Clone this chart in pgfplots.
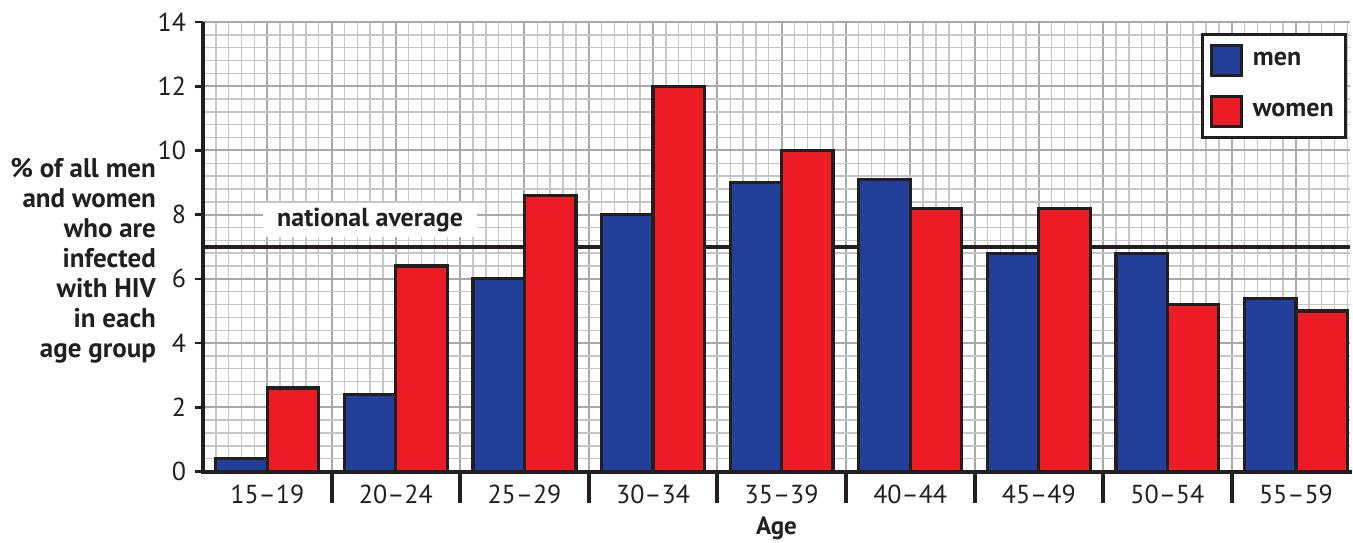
\documentclass[border=0pt]{standalone}
\usepackage{fontspec}
\setmainfont{PT Sans}
\usepackage{pgfplots}
\pgfplotsset{compat=1.18}
\usetikzlibrary{calc}
\definecolor{menblue}{HTML}{22409A}
\definecolor{womenred}{HTML}{ED1C24}
\definecolor{edge}{HTML}{231F20}
\definecolor{gridmajor}{HTML}{A7A9AC}
\definecolor{gridminor}{HTML}{C4C6C8}
\pgfplotsset{
  hivbar/.style={ybar, bar width=0.4, draw=edge, line width=1.6pt,
    legend image code/.code={\draw[##1, line width=1.3pt] (0pt,-7.5pt) rectangle (15pt,7.5pt);}},
}
\begin{document}
\begin{tikzpicture}
\begin{axis}[
  name=ax,
  scale only axis, width=573.5pt, height=224.75pt,
  xmin=-0.5, xmax=8.42, ymin=0, ymax=14,
  clip=false,
  axis lines=left, axis line style={-, line width=2pt, edge},
  ytick={0,2,...,14},
  minor ytick={0,0.4,...,13.9},
  xtick={0,0.5,...,8},
  xticklabels={15–19,,20–24,,25–29,,30–34,,35–39,,40–44,,45–49,,50–54,,55–59},
  minor xtick={-0.4,-0.3,...,8.4},
  xtick style={draw=none},
  ytick style={line width=1.3pt, edge},
  major tick length=4pt, minor tick length=0pt,
  tick align=outside,
  grid=both,
  major grid style={gridmajor, line width=1pt},
  minor grid style={gridminor, line width=0.7pt},
  /pgf/number format/assume math mode=true,
  ticklabel style={font=\fontsize{13}{15}\selectfont, text=edge},
  yticklabel style={xshift=-1pt},
  xticklabel style={yshift=1pt},
  xlabel={Age},
  xlabel style={font=\fontsize{12.5}{14}\selectfont\bfseries, text=edge, at={(axis description cs:0.5,0)}, anchor=base, yshift=-31.5pt},
  ylabel={\% of all men\\and women\\who are\\infected \\with HIV\\in each\\age group},
  ylabel style={rotate=-90, align=right, anchor=east, font=\fontsize{13.5}{15}\selectfont\bfseries, text=edge,
    at={(axis description cs:0,0.469)}, xshift=-20pt},
  legend style={at={(1,1)}, anchor=north east, xshift=-1.5pt, yshift=-5.5pt,
    draw=edge, line width=1.3pt, font=\fontsize{13}{15}\selectfont\bfseries, text=edge,
    inner xsep=4pt, inner ysep=5pt, row sep=9pt, column sep=3pt, fill=white},
  legend cell align=left,
]
\addplot[line width=2pt, edge, forget plot] coordinates {(-0.5,7) (8.42,7)};
\addplot[hivbar, bar shift=-0.2, fill=menblue] coordinates {
  (0,0.4) (1,2.4) (2,6.0) (3,8.0) (4,9.0) (5,9.1) (6,6.8) (7,6.8) (8,5.4)
};
\addlegendentry{men}
\addplot[hivbar, bar shift=0.2, fill=womenred] coordinates {
  (0,2.6) (1,6.4) (2,8.6) (3,12.0) (4,10.0) (5,8.2) (6,8.2) (7,5.2) (8,5.0)
};
\addlegendentry{women}
\node[fill=white, font=\fontsize{13}{15}\selectfont\bfseries, text=edge, inner xsep=7pt, inner ysep=2.5pt]
  at (axis cs:0.8,7.84) {national average};
\pgfplotsinvokeforeach{0.5,1.5,...,7.5}{
  \draw[line width=2pt, edge] (axis cs:#1,0) -- ([yshift=-15.5pt]axis cs:#1,0);
}
\draw[line width=2pt, edge, line cap=rect] (axis cs:-0.5,0) -- (axis cs:8.42,0);
\end{axis}
\pgfresetboundingbox
\path[use as bounding box] ($(ax.south west)+(-101.5pt,-35.25pt)$) rectangle ($(ax.north east)+(1.5pt,11pt)$);
\end{tikzpicture}
\end{document}
